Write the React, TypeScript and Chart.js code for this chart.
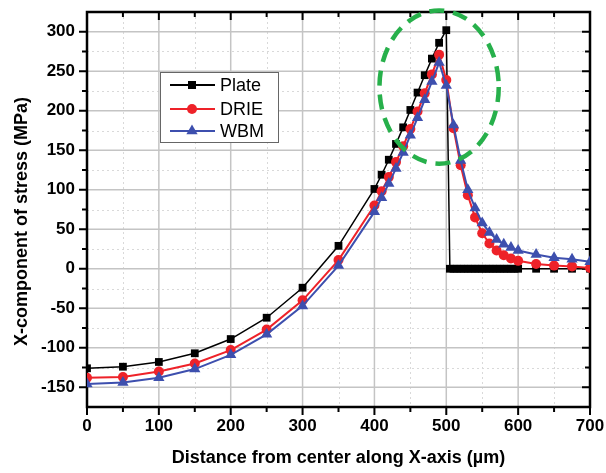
import React, { useEffect, useRef } from 'react';
import { Chart, registerables } from 'chart.js';

Chart.register(...registerables);

// ---- data ----
const plateX = [0, 50, 100, 150, 200, 250, 300, 350, 400, 410, 420, 430, 440, 450, 460, 470, 480, 490, 500,
  505, 510, 515, 520, 525, 530, 535, 540, 545, 550, 555, 560, 565, 570, 575, 580, 585, 590, 595, 600,
  625, 650, 675, 700];
const plateY = [-126, -124, -118, -107, -89, -62, -24, 29, 101, 119, 138, 158, 179, 201, 223, 245, 266, 286, 302,
  0, 0, 0, 0, 0, 0, 0, 0, 0, 0, 0, 0, 0, 0, 0, 0, 0, 0, 0, 0,
  0, 0, 0, 0];

const drieX = [0, 50, 100, 150, 200, 250, 300, 350, 400, 410, 420, 430, 440, 450, 460, 470, 480, 490, 500,
  510, 520, 530, 540, 550, 560, 570, 580, 590, 600, 625, 650, 675, 700];
const drieY = [-138, -137, -130, -120, -103, -77, -40, 11, 80, 98, 116, 135, 155, 177, 199, 222, 246, 271, 239,
  178, 131, 93, 65, 45, 32, 23, 17, 13, 10, 6, 4, 3, 1];

const wbmX = [0, 50, 100, 150, 200, 250, 300, 350, 400, 410, 420, 430, 440, 450, 460, 470, 480, 490, 500,
  510, 520, 530, 540, 550, 560, 570, 580, 590, 600, 625, 650, 675, 700];
const wbmY = [-146, -144, -138, -127, -109, -83, -47, 4, 72, 90, 108, 127, 147, 169, 191, 214, 237, 261, 232,
  182, 137, 100, 77, 58, 46, 37, 31, 27, 23, 18, 14, 12, 9];

const seriesLabels = ['Plate', 'DRIE', 'WBM'];
const seriesColors = ['#000000', '#ee2229', '#3d4fae'];

const xMajorTicks = [0, 100, 200, 300, 400, 500, 600, 700];
const xMinorTicks = [50, 150, 250, 350, 450, 550, 650];
const yMajorTicks = [-150, -100, -50, 0, 50, 100, 150, 200, 250, 300];
const yMinorTicks = [-125, -75, -25, 25, 75, 125, 175, 225, 275];

const xTitle = 'Distance from center along X-axis (µm)';
const yTitle = 'X-component of stress (MPa)';

// highlighted region (data units)
const highlightCenter = { x: 490, y: 230 };
const highlightRadius = { x: 83, y: 97 };

const FONT = "'Liberation Sans', Arial, sans-serif";

function drawMarker(ctx: CanvasRenderingContext2D, kind: string, x: number, y: number, color: string) {
  ctx.fillStyle = color;
  ctx.beginPath();
  if (kind === 'rect') {
    ctx.rect(x - 4, y - 4, 8, 8);
  } else if (kind === 'circle') {
    ctx.arc(x, y, 5, 0, Math.PI * 2);
  } else {
    const r = 6.5;
    ctx.moveTo(x, y - r);
    ctx.lineTo(x + r * 0.866, y + r * 0.5);
    ctx.lineTo(x - r * 0.866, y + r * 0.5);
    ctx.closePath();
  }
  ctx.fill();
}

const framePlugin = {
  id: 'originFrame',
  beforeDatasetsDraw(chart: any) {
    const { ctx, chartArea: a, scales } = chart;
    const xs = scales.x, ys = scales.y;
    ctx.save();
    // minor grid (dotted)
    ctx.strokeStyle = '#d9d9d9';
    ctx.lineWidth = 1;
    ctx.setLineDash([2, 3]);
    ctx.beginPath();
    xMinorTicks.forEach(v => {
      const p = Math.round(xs.getPixelForValue(v)) + 0.5;
      ctx.moveTo(p, a.top); ctx.lineTo(p, a.bottom);
    });
    yMinorTicks.forEach(v => {
      const p = Math.round(ys.getPixelForValue(v)) + 0.5;
      ctx.moveTo(a.left, p); ctx.lineTo(a.right, p);
    });
    ctx.stroke();
    // major grid (solid)
    ctx.setLineDash([]);
    ctx.strokeStyle = '#c4c4c4';
    ctx.lineWidth = 1.5;
    ctx.beginPath();
    xMajorTicks.forEach(v => {
      const p = xs.getPixelForValue(v);
      ctx.moveTo(p, a.top); ctx.lineTo(p, a.bottom);
    });
    yMajorTicks.forEach(v => {
      const p = ys.getPixelForValue(v);
      ctx.moveTo(a.left, p); ctx.lineTo(a.right, p);
    });
    ctx.stroke();

    // frame
    ctx.strokeStyle = '#000';
    ctx.lineWidth = 2.5;
    ctx.strokeRect(a.left, a.top, a.right - a.left, a.bottom - a.top);

    // ticks
    ctx.lineWidth = 2;
    ctx.beginPath();
    const tick = (v: number, len: number) => {
      const px = xs.getPixelForValue(v);
      ctx.moveTo(px, a.bottom); ctx.lineTo(px, a.bottom + len);
      ctx.moveTo(px, a.top); ctx.lineTo(px, a.top + len);
    };
    xMajorTicks.forEach(v => tick(v, 8));
    xMinorTicks.forEach(v => tick(v, 5));
    const ytick = (v: number, len: number) => {
      const py = ys.getPixelForValue(v);
      ctx.moveTo(a.left, py); ctx.lineTo(a.left - len, py);
      ctx.moveTo(a.right, py); ctx.lineTo(a.right - len, py);
    };
    yMajorTicks.forEach(v => ytick(v, 8));
    yMinorTicks.forEach(v => ytick(v, 5));
    ctx.stroke();

    // y-axis title
    ctx.save();
    ctx.translate(22, (a.top + a.bottom) / 2 + 12);
    ctx.rotate(-Math.PI / 2);
    ctx.font = `bold 18px ${FONT}`;
    ctx.fillStyle = '#000';
    ctx.textAlign = 'center';
    ctx.textBaseline = 'middle';
    ctx.fillText(yTitle, 0, 0);
    ctx.restore();
    ctx.restore();
  },
  afterDatasetsDraw(chart: any) {
    const { ctx, chartArea: a, scales } = chart;
    const xs = scales.x, ys = scales.y;
    ctx.save();
    // green dashed ellipse
    const cx = xs.getPixelForValue(highlightCenter.x);
    const cy = ys.getPixelForValue(highlightCenter.y);
    const rx = xs.getPixelForValue(highlightCenter.x + highlightRadius.x) - cx;
    const ry = cy - ys.getPixelForValue(highlightCenter.y + highlightRadius.y);
    ctx.strokeStyle = '#27b04b';
    ctx.lineWidth = 4.5;
    ctx.setLineDash([15, 9]);
    ctx.beginPath();
    ctx.ellipse(cx, cy, rx, ry, 0, 0, Math.PI * 2);
    ctx.stroke();
    ctx.setLineDash([]);

    // legend
    const lx = a.left + 73, ly = a.top + 60, lw = 118, lh = 70;
    ctx.fillStyle = '#fff';
    ctx.fillRect(lx, ly, lw, lh);
    ctx.strokeStyle = '#666';
    ctx.lineWidth = 1;
    ctx.strokeRect(lx + 0.5, ly + 0.5, lw, lh);
    const kinds = ['rect', 'circle', 'triangle'];
    const rows = [13, 37, 59];
    ctx.font = `18px ${FONT}`;
    ctx.textBaseline = 'middle';
    ctx.textAlign = 'left';
    seriesLabels.forEach((lab, i) => {
      const yy = ly + rows[i];
      ctx.strokeStyle = seriesColors[i];
      ctx.lineWidth = 2;
      ctx.beginPath();
      ctx.moveTo(lx + 10, yy); ctx.lineTo(lx + 55, yy);
      ctx.stroke();
      drawMarker(ctx, kinds[i], lx + 32, yy, seriesColors[i]);
      ctx.fillStyle = '#000';
      ctx.fillText(lab, lx + 60, yy + 1);
    });
    ctx.restore();
  },
};

export default function App() {
  const ref = useRef<HTMLCanvasElement | null>(null);
  useEffect(() => {
    if (!ref.current) return;
    const mk = (xs: number[], ys: number[]) => xs.map((x, i) => ({ x, y: ys[i] }));
    const chart = new Chart(ref.current, {
      type: 'line',
      data: {
        datasets: [
          {
            label: seriesLabels[0], data: mk(plateX, plateY), borderColor: seriesColors[0], backgroundColor: seriesColors[0],
            borderWidth: 1.5, pointStyle: 'rect', pointRadius: 5.5, pointBorderWidth: 0, order: 2, tension: 0,
          },
          {
            label: seriesLabels[1], data: mk(drieX, drieY), borderColor: seriesColors[1], backgroundColor: seriesColors[1],
            borderWidth: 2, pointStyle: 'circle', pointRadius: 5, pointBorderWidth: 0, order: 1, tension: 0,
          },
          {
            label: seriesLabels[2], data: mk(wbmX, wbmY), borderColor: seriesColors[2], backgroundColor: seriesColors[2],
            borderWidth: 2, pointStyle: 'triangle', pointRadius: 6.5, pointBorderWidth: 0, order: 0, tension: 0,
          },
        ],
      },
      options: {
        animation: false,
        responsive: false,
        maintainAspectRatio: false,
        layout: { padding: { top: 12, right: 16, left: 0, bottom: 0 } },
        plugins: { legend: { display: false }, tooltip: { enabled: false } },
        scales: {
          x: {
            type: 'linear', min: 0, max: 700,
            afterFit: (s: any) => { s.height = 66; s.paddingLeft = 0; s.paddingRight = 0; },
            grid: { display: false, drawTicks: false }, border: { display: false },
            ticks: {
              stepSize: 50, autoSkip: false, maxRotation: 0, padding: 9, color: '#000',
              font: { family: FONT, size: 17, weight: 'bold' },
              callback: (v: any) => (Number(v) % 100 === 0 ? String(v) : ''),
            },
            title: {
              display: true, text: xTitle, color: '#000',
              font: { family: FONT, size: 18, weight: 'bold' }, padding: { top: 0, bottom: 4 },
            },
          },
          y: {
            type: 'linear', min: -175, max: 325,
            afterFit: (s: any) => { s.width = 87; s.paddingTop = 0; s.paddingBottom = 0; },
            grid: { display: false, drawTicks: false }, border: { display: false },
            ticks: {
              stepSize: 25, autoSkip: false, padding: 12, color: '#000',
              font: { family: FONT, size: 17, weight: 'bold' },
              callback: (v: any) => (Number(v) % 50 === 0 ? String(v) : ''),
            },
            title: { display: false },
          },
        },
      },
      plugins: [framePlugin],
    } as any);
    return () => chart.destroy();
  }, []);
  return (
    <div style={{ position: 'absolute', left: 0, top: 0, width: 606, height: 473, background: '#fff' }}>
      <canvas ref={ref} width={606} height={473} style={{ display: 'block', width: 606, height: 473 }} />
    </div>
  );
}
